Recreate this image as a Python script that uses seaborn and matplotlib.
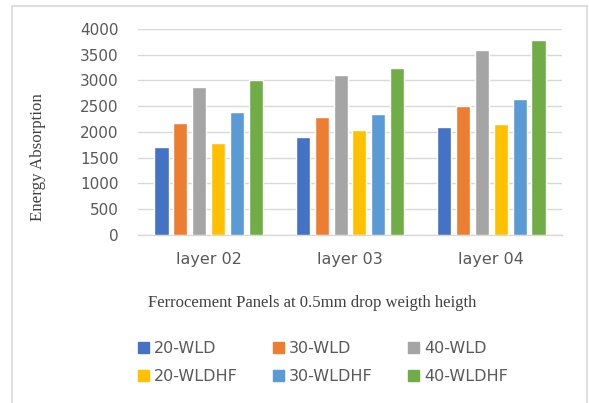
import pandas as pd
import matplotlib
matplotlib.use("Agg")
import matplotlib.pyplot as plt
import matplotlib.patches as mpatches
import seaborn as sns

# Données
layers = ["layer 02", "layer 03", "layer 04"]
series = ["20-WLD", "30-WLD", "40-WLD", "20-WLDHF", "30-WLDHF", "40-WLDHF"]
wld_20 = [1700, 1910, 2090]
wld_30 = [2170, 2290, 2510]
wld_40 = [2870, 3100, 3590]
wldhf_20 = [1790, 2030, 2150]
wldhf_30 = [2380, 2340, 2650]
wldhf_40 = [3000, 3250, 3790]
colors = ["#4472C4", "#ED7D31", "#A5A5A5", "#FFC000", "#5B9BD5", "#70AD47"]

values = [wld_20, wld_30, wld_40, wldhf_20, wldhf_30, wldhf_40]
rows = []
for name, vals in zip(series, values):
    for layer, v in zip(layers, vals):
        rows.append({"layer": layer, "series": name, "value": v})
df = pd.DataFrame(rows)

sns.set_style("white")
plt.rcParams["font.family"] = ["DejaVu Sans"]

fig = plt.figure(figsize=(5.89, 4.03), dpi=100)
ax = fig.add_axes([138 / 589, 1 - 235 / 403, 424 / 589, 206 / 403])

sns.barplot(data=df, x="layer", y="value", hue="series", hue_order=series,
            palette=colors, width=0.8, gap=0.25, ax=ax, legend=False,
            saturation=1, zorder=3)

ax.set_ylim(0, 4000)
ax.set_xlim(-0.5, 2.5)
ax.set_yticks(range(0, 4001, 500))
ax.yaxis.grid(True, color="#d9d9d9", linewidth=1, zorder=0)
ax.set_axisbelow(True)
for side in ["top", "right", "left"]:
    ax.spines[side].set_visible(False)
ax.spines["bottom"].set_color("#d9d9d9")
ax.spines["bottom"].set_linewidth(1)

ax.tick_params(axis="y", length=0, pad=14, labelsize=11, labelcolor="#595959")
ax.tick_params(axis="x", which="major", length=0, pad=12, labelsize=11.5,
               labelcolor="#595959")
ax.set_xticks([-0.5, 0.5, 1.5, 2.5], minor=True)
ax.tick_params(axis="x", which="minor", length=5, color="#d9d9d9", width=1)
ax.set_xlabel("")
ax.set_ylabel("")

fig.text(38 / 589, 1 - 157 / 403, "Energy Absorption", rotation=90,
         ha="center", va="center", fontsize=12.2, color="#404040",
         family="Liberation Serif")
fig.text(312 / 589, 1 - 303 / 403, "Ferrocement Panels at 0.5mm drop weigth heigth",
         ha="center", va="center", fontsize=12, color="#404040",
         family="Liberation Serif")

handles = [mpatches.Patch(color=c, label=s) for c, s in zip(colors, series)]
order = [0, 3, 1, 4, 2, 5]
fig.legend([handles[i] for i in order], [series[i] for i in order],
           ncol=3, loc="center", bbox_to_anchor=(323 / 589, 1 - 362.5 / 403),
           frameon=False, fontsize=11.5, labelcolor="#595959",
           handlelength=0.7, handleheight=0.7, handletextpad=0.3,
           columnspacing=2.2, labelspacing=0.78)

border = mpatches.Rectangle((12 / 589, -0.02), 575 / 589, 1.02 - 6 / 403,
                            transform=fig.transFigure, fill=False,
                            edgecolor="#d9d9d9", linewidth=1.2)
fig.patches.append(border)

fig.savefig("out.png", dpi=100, facecolor="white")
